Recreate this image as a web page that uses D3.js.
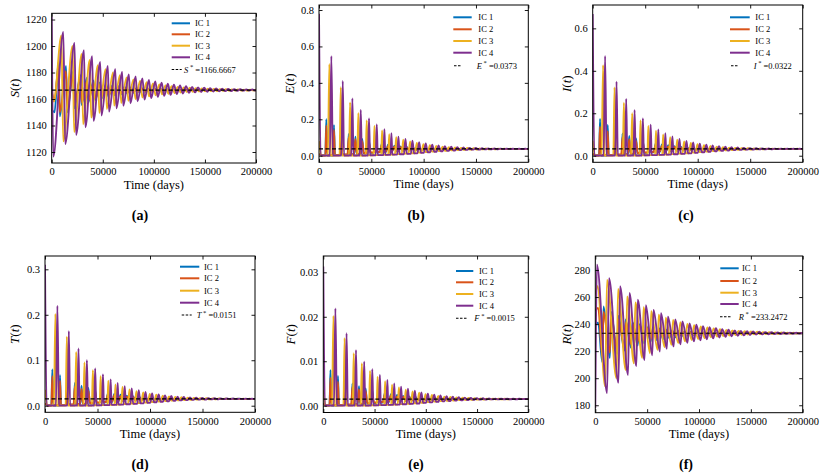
<!DOCTYPE html>
<html><head><meta charset="utf-8">
<script src="https://cdn.jsdelivr.net/npm/d3@7"></script>
<style>
body{margin:0;background:#fff}
svg{display:block}
text{font-family:"Liberation Serif","Times New Roman",serif;fill:#000}
</style>
</head><body>
<svg id="chart" width="837" height="476"></svg>
<script>
// ---------------- data ----------------
const icLabels = ["IC 1", "IC 2", "IC 3", "IC 4"];
const xTicks = [0, 50000, 100000, 150000, 200000];
const sTicks = [1120, 1140, 1160, 1180, 1200, 1220];
const eTicks = [0, 0.2, 0.4, 0.6, 0.8];
const iTicks = [0, 0.2, 0.4, 0.6];
const tTicks = [0, 0.1, 0.2, 0.3];
const fTicks = [0, 0.01, 0.02, 0.03];
const rTicks = [180, 200, 220, 240, 260, 280];
const eqNames = ["S", "E", "I", "T", "F", "R"];
const eqValues = [1166.6667, 0.0373, 0.0322, 0.0151, 0.0015, 233.2472];
const eqLabels = ["1166.6667", "0.0373", "0.0322", "0.0151", "0.0015", "233.2472"];

// outbreak (spike) times of E for each initial condition, days
const time1 = [0, 7000, 14300, 21300, 28400, 34800, 41300, 47700, 53900, 60000, 66000, 72000, 77900, 83800, 89700, 95600, 101500, 107400, 113300, 119200, 125100, 131000, 136900, 142800, 148700, 154600, 160500, 166400, 172300, 178200, 184100, 190000, 195900];
const time2 = [0, 7000, 14300, 21300, 28400, 34800, 41300, 47700, 53900, 60000, 66000, 72000, 77900, 83800, 89700, 95600, 101500, 107400, 113300, 119200, 125100, 131000, 136900, 142800, 148700, 154600, 160500, 166400, 172300, 178200, 184100, 190000, 195900];
const time3 = [0, 9900, 20800, 29700, 37600, 45600, 53000, 60300, 67100, 73800, 80500, 87100, 93500, 99800, 106000, 112100, 118100, 124100, 130000, 135900, 141800, 147700, 153600, 159500, 165400, 171300, 177200, 183100, 189000, 194900];
const time4 = [0, 11800, 22700, 31900, 39900, 47800, 55200, 62500, 69200, 75900, 82600, 89300, 95700, 102000, 108200, 114300, 120300, 126300, 132200, 138100, 144000, 149900, 155800, 161700, 167600, 173500, 179400, 185300, 191200, 197100];

// S(t): maxima (at outbreak) and minima (just after outbreak)
const sPeak1 = [1152, 1188, 1185, 1181, 1178, 1176, 1174, 1172.5, 1171.3, 1170.4, 1169.7, 1169.1, 1168.7, 1168.3, 1168, 1167.8, 1167.6, 1167.5, 1167.4, 1167.3, 1167.2, 1167.1, 1167.1, 1167, 1167, 1166.95, 1166.9, 1166.9, 1166.85, 1166.85, 1166.8, 1166.8, 1166.8];
const sTrough1 = [1150, 1147, 1150, 1153, 1155.5, 1157.5, 1159.2, 1160.6, 1161.8, 1162.8, 1163.6, 1164.2, 1164.7, 1165.1, 1165.4, 1165.7, 1165.9, 1166, 1166.1, 1166.2, 1166.3, 1166.35, 1166.4, 1166.45, 1166.5, 1166.5, 1166.55, 1166.55, 1166.6, 1166.6, 1166.6, 1166.6, 1166.6];
const sPeak2 = [1165, 1184, 1181, 1178, 1175.5, 1173.5, 1172, 1170.8, 1169.9, 1169.2, 1168.7, 1168.3, 1168, 1167.8, 1167.6, 1167.4, 1167.3, 1167.2, 1167.1, 1167.05, 1167, 1166.95, 1166.9, 1166.9, 1166.85, 1166.85, 1166.8, 1166.8, 1166.8, 1166.75, 1166.75, 1166.75, 1166.75];
const sTrough2 = [1160, 1150, 1153, 1155.5, 1157.5, 1159.3, 1160.8, 1162, 1163, 1163.8, 1164.4, 1164.9, 1165.3, 1165.6, 1165.8, 1166, 1166.1, 1166.2, 1166.3, 1166.35, 1166.4, 1166.45, 1166.5, 1166.5, 1166.55, 1166.55, 1166.6, 1166.6, 1166.6, 1166.6, 1166.6, 1166.6, 1166.6];
const sPeak3 = [1170, 1208, 1200, 1194, 1189.5, 1185.5, 1182.5, 1180, 1178, 1176.3, 1174.8, 1173.6, 1172.6, 1171.7, 1171, 1170.3, 1169.7, 1169.2, 1168.8, 1168.5, 1168.2, 1168, 1167.8, 1167.6, 1167.5, 1167.4, 1167.3, 1167.2, 1167.1, 1167.1];
const sTrough3 = [1158, 1128, 1135, 1141, 1146, 1149.5, 1152.5, 1155, 1157, 1158.6, 1160, 1161.1, 1162, 1162.8, 1163.5, 1164, 1164.5, 1164.9, 1165.2, 1165.5, 1165.7, 1165.9, 1166, 1166.1, 1166.2, 1166.3, 1166.35, 1166.4, 1166.45, 1166.5];
const sPeak4 = [1222, 1210.7, 1202.4, 1196.9, 1192.3, 1188, 1185, 1182.5, 1180.5, 1178.5, 1177, 1175.5, 1174.3, 1173.2, 1172.3, 1171.5, 1170.8, 1170.2, 1169.7, 1169.2, 1168.8, 1168.5, 1168.2, 1168, 1167.8, 1167.6, 1167.5, 1167.4, 1167.3, 1167.2];
const sTrough4 = [1116.5, 1126, 1132.8, 1138.6, 1143.6, 1147.5, 1150.5, 1153, 1155, 1156.8, 1158.3, 1159.6, 1160.7, 1161.6, 1162.4, 1163.1, 1163.7, 1164.2, 1164.6, 1165, 1165.3, 1165.5, 1165.7, 1165.9, 1166, 1166.1, 1166.2, 1166.3, 1166.35, 1166.4];

// E, I, T, F: outbreak peak heights
const ePeak1 = [0.01, 0.2, 0.168, 0.14, 0.12, 0.105, 0.092, 0.082, 0.073, 0.066, 0.06, 0.055, 0.051, 0.048, 0.046, 0.044, 0.042, 0.041, 0.04, 0.0395, 0.039, 0.0385, 0.038, 0.038, 0.0378, 0.0376, 0.0375, 0.0375, 0.0374, 0.0374, 0.0374, 0.0373, 0.0373];
const ePeak2 = [0.01, 0.165, 0.141, 0.12, 0.1, 0.09, 0.08, 0.071, 0.064, 0.058, 0.054, 0.05, 0.047, 0.045, 0.043, 0.042, 0.041, 0.04, 0.0395, 0.039, 0.0385, 0.038, 0.038, 0.0378, 0.0376, 0.0375, 0.0375, 0.0374, 0.0374, 0.0373, 0.0373, 0.0373, 0.0373];
const ePeak3 = [0.08, 0.504, 0.376, 0.293, 0.234, 0.194, 0.163, 0.138, 0.118, 0.101, 0.088, 0.078, 0.07, 0.063, 0.058, 0.053, 0.05, 0.047, 0.045, 0.043, 0.042, 0.041, 0.04, 0.0395, 0.039, 0.0385, 0.038, 0.038, 0.0377, 0.0375];
const ePeak4 = [0.78, 0.547, 0.41, 0.315, 0.251, 0.205, 0.172, 0.145, 0.123, 0.105, 0.092, 0.082, 0.074, 0.067, 0.061, 0.056, 0.052, 0.049, 0.047, 0.045, 0.043, 0.042, 0.041, 0.04, 0.0395, 0.039, 0.0385, 0.038, 0.038, 0.0378];
const iPeak1 = [0.01, 0.173, 0.145, 0.122, 0.105, 0.093, 0.081, 0.072, 0.064, 0.058, 0.053, 0.049, 0.045, 0.043, 0.041, 0.039, 0.037, 0.036, 0.035, 0.0345, 0.034, 0.0335, 0.033, 0.033, 0.0328, 0.0326, 0.0325, 0.0324, 0.0323, 0.0323, 0.0323, 0.0322, 0.0322];
const iPeak2 = [0.01, 0.137, 0.116, 0.1, 0.087, 0.078, 0.069, 0.062, 0.056, 0.051, 0.047, 0.044, 0.041, 0.039, 0.037, 0.036, 0.035, 0.0345, 0.034, 0.0335, 0.033, 0.033, 0.0328, 0.0326, 0.0325, 0.0324, 0.0323, 0.0323, 0.0323, 0.0322, 0.0322, 0.0322, 0.0322];
const iPeak3 = [0.07, 0.427, 0.322, 0.25, 0.2, 0.166, 0.14, 0.118, 0.1, 0.087, 0.076, 0.067, 0.06, 0.054, 0.05, 0.046, 0.043, 0.04, 0.038, 0.037, 0.036, 0.035, 0.0345, 0.034, 0.0335, 0.033, 0.033, 0.0328, 0.0326, 0.0325];
const iPeak4 = [0.667, 0.47, 0.349, 0.268, 0.215, 0.176, 0.146, 0.124, 0.106, 0.091, 0.079, 0.07, 0.063, 0.057, 0.052, 0.048, 0.045, 0.042, 0.04, 0.0385, 0.037, 0.036, 0.035, 0.0345, 0.034, 0.0335, 0.033, 0.033, 0.0328, 0.0326];
const tPeak1 = [0.005, 0.08, 0.067, 0.057, 0.05, 0.044, 0.039, 0.035, 0.031, 0.028, 0.026, 0.024, 0.022, 0.021, 0.02, 0.019, 0.018, 0.0175, 0.017, 0.0166, 0.0163, 0.016, 0.0158, 0.0156, 0.0155, 0.0154, 0.0153, 0.0153, 0.0152, 0.0152, 0.0152, 0.0151, 0.0151];
const tPeak2 = [0.005, 0.065, 0.055, 0.047, 0.042, 0.037, 0.033, 0.03, 0.027, 0.025, 0.023, 0.021, 0.02, 0.019, 0.018, 0.0175, 0.017, 0.0166, 0.0163, 0.016, 0.0158, 0.0156, 0.0155, 0.0154, 0.0153, 0.0153, 0.0152, 0.0152, 0.0152, 0.0151, 0.0151, 0.0151, 0.0151];
const tPeak3 = [0.035, 0.202, 0.152, 0.118, 0.095, 0.078, 0.065, 0.055, 0.047, 0.041, 0.036, 0.032, 0.029, 0.026, 0.024, 0.022, 0.0205, 0.0195, 0.0185, 0.0178, 0.0172, 0.0167, 0.0163, 0.016, 0.0158, 0.0156, 0.0155, 0.0154, 0.0153, 0.0153];
const tPeak4 = [0.31, 0.22, 0.164, 0.126, 0.1, 0.082, 0.069, 0.058, 0.05, 0.043, 0.038, 0.034, 0.03, 0.027, 0.0248, 0.0228, 0.0212, 0.02, 0.019, 0.0182, 0.0175, 0.017, 0.0166, 0.0163, 0.016, 0.0158, 0.0157, 0.0156, 0.0155, 0.0154];
const fPeak1 = [0.0005, 0.008, 0.0067, 0.0057, 0.005, 0.0044, 0.0039, 0.0035, 0.0031, 0.0028, 0.0026, 0.0024, 0.0022, 0.0021, 0.002, 0.0019, 0.0018, 0.00175, 0.0017, 0.00166, 0.00163, 0.0016, 0.00158, 0.00156, 0.00155, 0.00154, 0.00153, 0.00153, 0.00152, 0.00152, 0.00152, 0.00151, 0.00151];
const fPeak2 = [0.0005, 0.0063, 0.0054, 0.0047, 0.0042, 0.0037, 0.0033, 0.003, 0.0027, 0.0025, 0.0023, 0.0021, 0.002, 0.0019, 0.0018, 0.00175, 0.0017, 0.00166, 0.00163, 0.0016, 0.00158, 0.00156, 0.00155, 0.00154, 0.00153, 0.00153, 0.00152, 0.00152, 0.00152, 0.00151, 0.00151, 0.00151, 0.00151];
const fPeak3 = [0.0035, 0.0202, 0.0152, 0.0118, 0.0095, 0.0078, 0.0065, 0.0055, 0.0047, 0.0041, 0.0036, 0.0032, 0.0029, 0.0026, 0.0024, 0.0022, 0.00205, 0.00195, 0.00185, 0.00178, 0.00172, 0.00167, 0.00163, 0.0016, 0.00158, 0.00156, 0.00155, 0.00154, 0.00153, 0.00153];
const fPeak4 = [0.0313, 0.0219, 0.0163, 0.0125, 0.0099, 0.0082, 0.0069, 0.0058, 0.005, 0.0043, 0.0038, 0.0034, 0.003, 0.0027, 0.00248, 0.00228, 0.00212, 0.002, 0.0019, 0.00182, 0.00175, 0.0017, 0.00166, 0.00163, 0.0016, 0.00158, 0.00157, 0.00156, 0.00155, 0.00154];

// level between outbreaks, as a fraction of the equilibrium value
const base1 = [0.03, 0.04, 0.08, 0.13, 0.19, 0.26, 0.33, 0.41, 0.49, 0.57, 0.64, 0.7, 0.75, 0.8, 0.84, 0.87, 0.9, 0.92, 0.935, 0.95, 0.96, 0.965, 0.97, 0.975, 0.98, 0.985, 0.988, 0.99, 0.992, 0.994, 0.995, 0.996, 0.997];
const base2 = [0.03, 0.06, 0.11, 0.17, 0.24, 0.31, 0.39, 0.47, 0.55, 0.62, 0.68, 0.74, 0.79, 0.83, 0.86, 0.89, 0.91, 0.93, 0.945, 0.955, 0.965, 0.97, 0.975, 0.98, 0.985, 0.988, 0.99, 0.992, 0.994, 0.995, 0.996, 0.997, 0.998];
const base3 = [0.03, 0.03, 0.03, 0.03, 0.04, 0.06, 0.09, 0.13, 0.18, 0.24, 0.3, 0.37, 0.45, 0.53, 0.61, 0.68, 0.74, 0.79, 0.84, 0.87, 0.9, 0.92, 0.94, 0.95, 0.96, 0.97, 0.975, 0.98, 0.985, 0.99];
const base4 = [0.03, 0.03, 0.03, 0.03, 0.04, 0.06, 0.09, 0.12, 0.16, 0.21, 0.27, 0.34, 0.42, 0.5, 0.58, 0.65, 0.71, 0.77, 0.82, 0.86, 0.89, 0.91, 0.93, 0.945, 0.955, 0.965, 0.97, 0.975, 0.98, 0.985];

// R(t): minima (at outbreak) and maxima (just after outbreak)
const rTrough1 = [240, 212, 215, 218, 220.5, 222.5, 224.2, 225.7, 227, 228, 228.9, 229.7, 230.3, 230.9, 231.3, 231.7, 232, 232.3, 232.5, 232.6, 232.7, 232.8, 232.9, 233, 233, 233.05, 233.1, 233.1, 233.15, 233.15, 233.2, 233.2, 233.2];
const rPeak1 = [241, 253, 249, 246, 243.5, 241.5, 240, 238.7, 237.6, 236.7, 236, 235.4, 234.9, 234.5, 234.2, 234, 233.8, 233.7, 233.6, 233.5, 233.45, 233.4, 233.35, 233.3, 233.3, 233.3, 233.3, 233.25, 233.25, 233.25, 233.25, 233.25, 233.25];
const rTrough2 = [250, 216, 219, 221.5, 223.5, 225.3, 226.8, 228, 229, 229.8, 230.5, 231, 231.5, 231.9, 232.2, 232.4, 232.6, 232.7, 232.8, 232.9, 233, 233, 233.05, 233.1, 233.1, 233.15, 233.15, 233.2, 233.2, 233.2, 233.2, 233.2, 233.2];
const rPeak2 = [252, 249, 246, 243.5, 241.5, 240, 238.7, 237.6, 236.7, 236, 235.4, 234.9, 234.5, 234.2, 234, 233.8, 233.7, 233.6, 233.5, 233.45, 233.4, 233.35, 233.3, 233.3, 233.3, 233.3, 233.3, 233.25, 233.25, 233.25, 233.25, 233.25, 233.25];
const rTrough3 = [262, 194, 200, 206, 211, 215, 218.5, 221, 223, 224.7, 226, 227.2, 228.2, 229, 229.7, 230.3, 230.8, 231.2, 231.6, 231.9, 232.1, 232.3, 232.5, 232.6, 232.7, 232.8, 232.9, 233, 233, 233.1];
const rPeak3 = [268, 272.6, 266, 260.5, 256, 252.5, 249.5, 247, 244.8, 243, 241.5, 240.2, 239.2, 238.3, 237.5, 236.8, 236.2, 235.7, 235.3, 235, 234.7, 234.5, 234.3, 234.1, 234, 233.9, 233.8, 233.7, 233.6, 233.5];
const rTrough4 = [178, 189, 196.7, 202.4, 209, 213.5, 217, 219.7, 221.8, 223.5, 225, 226.2, 227.2, 228, 228.8, 229.5, 230.1, 230.6, 231, 231.4, 231.7, 232, 232.2, 232.4, 232.5, 232.6, 232.7, 232.8, 232.9, 233];
const rPeak4 = [284, 274, 268, 263, 258, 254, 250.5, 248, 245.5, 243.5, 242, 240.5, 239.5, 238.5, 237.7, 237, 236.3, 235.8, 235.4, 235, 234.7, 234.5, 234.3, 234.1, 234, 233.9, 233.8, 233.7, 233.6, 233.5];

// ---------------- drawing ----------------
const colors = ["#0072BD", "#D95319", "#EDB120", "#7E2F8E"];
const FONT = '"Liberation Serif", "Times New Roman", serif';
const svg = d3.select("#chart");

const ics = [
  {time: time1, s: [sPeak1, sTrough1], e: ePeak1, i: iPeak1, t: tPeak1, f: fPeak1, base: base1, r: [rTrough1, rPeak1]},
  {time: time2, s: [sPeak2, sTrough2], e: ePeak2, i: iPeak2, t: tPeak2, f: fPeak2, base: base2, r: [rTrough2, rPeak2]},
  {time: time3, s: [sPeak3, sTrough3], e: ePeak3, i: iPeak3, t: tPeak3, f: fPeak3, base: base3, r: [rTrough3, rPeak3]},
  {time: time4, s: [sPeak4, sTrough4], e: ePeak4, i: iPeak4, t: tPeak4, f: fPeak4, base: base4, r: [rTrough4, rPeak4]}
];

// half-width of each outbreak (narrow for big outbreaks, wide near equilibrium)
ics.forEach(ic => {
  const eStar = eqValues[1];
  ic.w = ic.time.map((t, k) => {
    const P = k < ic.time.length - 1 ? ic.time[k + 1] - t : t - ic.time[k - 1];
    const a = (ic.e[k] - ic.base[k] * eStar) / eStar;
    return (0.42 - 0.29 * Math.min(1, a / 3)) * P;
  });
});

function spikePts(ic, peaks, eq) {
  const n = ic.time.length, pts = [];
  for (let k = 0; k < n; k++) {
    if (k > 0) pts.push([ic.time[k] - ic.w[k], ic.base[k - 1] * eq]);
    pts.push([ic.time[k], peaks[k]]);
    pts.push([ic.time[k] + ic.w[k], ic.base[k] * eq]);
  }
  pts.push([ic.time[n - 1] + (ic.time[n - 1] - ic.time[n - 2]), ic.base[n - 1] * eq]);
  return pts;
}
function sawPts(ic, first, second) {
  const n = ic.time.length, pts = [];
  for (let k = 0; k < n; k++) {
    pts.push([k === 0 ? 0 : ic.time[k] - 0.3 * ic.w[k], first[k]]);
    pts.push([ic.time[k] + ic.w[k], second[k]]);
  }
  const P = ic.time[n - 1] - ic.time[n - 2];
  pts.push([ic.time[n - 1] + P - 0.3 * ic.w[n - 1], first[n - 1]]);
  return pts;
}

const panels = [
  {id: "a", box: [51.7, 256, 13.3, 163], yDom: [1111.7, 1224.7], ticks: sTicks, fmt: ".0f", q: 0, ylx: 15, lab: [140, 219.5],
   leg: {lx: [171.7, 190], tx: 195, ys: [23.3, 34.3, 45.7, 57.3, 69.5], dx: [171.7, 181.7], ex: 184},
   pts: ic => sawPts(ic, ic.s[0], ic.s[1])},
  {id: "b", box: [319, 528.3, 5, 162.3], yDom: [-0.0362, 0.8275], ticks: eTicks, fmt: ".1f", q: 1, ylx: 290, lab: [416, 219.5],
   leg: {lx: [453.3, 471.7], tx: 478.3, ys: [17.3, 29.3, 41, 52.7, 65.7], dx: [454, 462], ex: 476.7},
   pts: ic => spikePts(ic, ic.e, eqValues[1])},
  {id: "c", box: [592.7, 802.7, 5, 162.3], yDom: [-0.031, 0.71], ticks: iTicks, fmt: ".1f", q: 2, ylx: 567, lab: [686, 219.5],
   leg: {lx: [730, 749.7], tx: 755.3, ys: [17.3, 29.3, 41, 52.7, 65.7], dx: [731, 738.7], ex: 753.7},
   pts: ic => spikePts(ic, ic.i, eqValues[2])},
  {id: "d", box: [45, 255, 256, 412.3], yDom: [-0.0145, 0.3293], ticks: tTicks, fmt: ".1f", q: 3, ylx: 15, lab: [140, 469],
   leg: {lx: [180, 199.3], tx: 204, ys: [266.7, 278.3, 290.7, 302.7, 315], dx: [181.7, 191.7], ex: 196.7},
   pts: ic => spikePts(ic, ic.t, eqValues[3])},
  {id: "e", box: [323.3, 528.3, 256, 412.5], yDom: [-0.00153, 0.03367], ticks: fTicks, fmt: ".2f", q: 4, ylx: 290.7, lab: [416, 469],
   leg: {lx: [456, 473.3], tx: 479, ys: [271, 282.3, 294, 305.7, 318.3], dx: [456, 466.7], ex: 474.3},
   pts: ic => spikePts(ic, ic.f, eqValues[4])},
  {id: "f", box: [595.3, 802.7, 256, 412.7], yDom: [174.5, 290.35], ticks: rTicks, fmt: ".0f", q: 5, ylx: 567, lab: [686, 469],
   leg: {lx: [720.3, 738.7], tx: 742, ys: [268.3, 281, 292.7, 304, 316.7], dx: [720, 732], ex: 738.7},
   pts: ic => sawPts(ic, ic.r[0], ic.r[1])}
];

const defs = svg.append("defs");

panels.forEach(p => {
  const [L, R, T, B] = p.box;
  const x = d3.scaleLinear().domain([0, 200000]).range([L, R]);
  const y = d3.scaleLinear().domain(p.yDom).range([B, T]);
  const g = svg.append("g");

  defs.append("clipPath").attr("id", "clip-" + p.id)
    .append("rect").attr("x", L).attr("y", T).attr("width", R - L).attr("height", B - T);

  const line = d3.line().x(d => x(d[0])).y(d => y(d[1])).curve(d3.curveMonotoneX);
  const plot = g.append("g").attr("clip-path", `url(#clip-${p.id})`);
  ics.forEach((ic, k) => {
    plot.append("path").attr("d", line(p.pts(ic)))
      .attr("fill", "none").attr("stroke", colors[k]).attr("stroke-width", 1.9)
      .attr("stroke-linejoin", "round");
  });
  plot.append("line").attr("x1", L).attr("x2", R)
    .attr("y1", y(eqValues[p.q])).attr("y2", y(eqValues[p.q]))
    .attr("stroke", "#000").attr("stroke-width", 1.2).attr("stroke-dasharray", "4,2.5");

  // axes
  g.append("g").attr("transform", `translate(0,${B})`)
    .call(d3.axisBottom(x).tickValues(xTicks).tickFormat(d3.format("d")).tickSize(-3.5).tickPadding(5));
  g.append("g").attr("transform", `translate(0,${T})`)
    .call(d3.axisTop(x).tickValues(xTicks).tickFormat("").tickSize(-3.5));
  g.append("g").attr("transform", `translate(${L},0)`)
    .call(d3.axisLeft(y).tickValues(p.ticks).tickFormat(d3.format(p.fmt)).tickSize(-3.5).tickPadding(5));
  g.append("g").attr("transform", `translate(${R},0)`)
    .call(d3.axisRight(y).tickValues(p.ticks).tickFormat("").tickSize(-3.5));
  g.selectAll(".domain").remove();
  g.selectAll(".tick line").attr("stroke", "#000").attr("stroke-width", 0.9);
  g.selectAll("g").attr("font-family", FONT);
  g.selectAll(".tick text").attr("font-family", FONT).attr("font-size", 10.5).attr("fill", "#000");
  g.append("rect").attr("x", L).attr("y", T).attr("width", R - L).attr("height", B - T)
    .attr("fill", "none").attr("stroke", "#000").attr("stroke-width", 1);

  // axis titles
  g.append("text").attr("x", (L + R) / 2).attr("y", B + 25.5).attr("text-anchor", "middle")
    .attr("font-family", FONT).attr("font-size", 12.5).text("Time (days)");
  const yl = g.append("text").attr("transform", `translate(${p.ylx + 4},${(T + B) / 2}) rotate(-90)`)
    .attr("text-anchor", "middle").attr("font-family", FONT).attr("font-size", 13);
  yl.append("tspan").attr("font-style", "italic").text(eqNames[p.q]);
  yl.append("tspan").text("(");
  yl.append("tspan").attr("font-style", "italic").text("t");
  yl.append("tspan").text(")");

  // legend
  const lg = g.append("g").attr("font-family", FONT);
  icLabels.forEach((lab, k) => {
    lg.append("line").attr("x1", p.leg.lx[0]).attr("x2", p.leg.lx[1])
      .attr("y1", p.leg.ys[k]).attr("y2", p.leg.ys[k])
      .attr("stroke", colors[k]).attr("stroke-width", 2);
    lg.append("text").attr("x", p.leg.tx).attr("y", p.leg.ys[k] + 3)
      .attr("font-size", 8.5).text(lab);
  });
  const yq = p.leg.ys[4];
  lg.append("line").attr("x1", p.leg.dx[0]).attr("x2", p.leg.dx[1])
    .attr("y1", yq).attr("y2", yq).attr("stroke", "#000").attr("stroke-width", 1.1)
    .attr("stroke-dasharray", "2.5,1.5");
  const et = lg.append("text").attr("x", p.leg.ex).attr("y", yq + 3).attr("font-size", 8.5);
  et.append("tspan").attr("font-style", "italic").text(eqNames[p.q]);
  et.append("tspan").attr("dy", -3.5).attr("font-size", 6.5).text(" *");
  et.append("tspan").attr("dy", 3.5).text(" =" + eqLabels[p.q]);

  // sub-figure label
  g.append("text").attr("x", p.lab[0]).attr("y", p.lab[1]).attr("text-anchor", "middle")
    .attr("font-family", FONT).attr("font-size", 14).attr("font-weight", "bold").text(`(${p.id})`);
});
</script>
</body></html>
